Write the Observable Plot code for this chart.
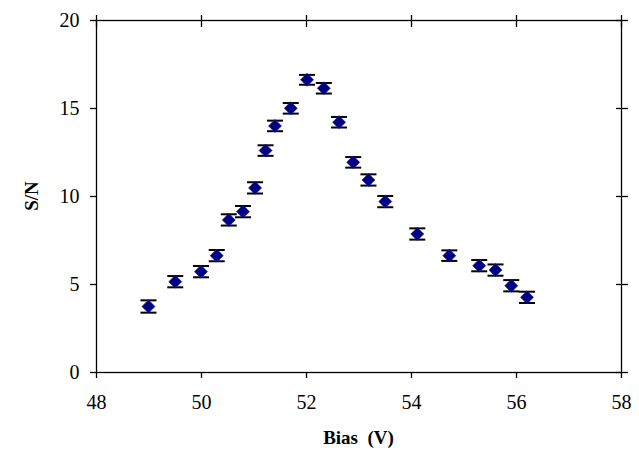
<!DOCTYPE html>
<html>
<head>
<meta charset="utf-8">
<script src="https://cdn.jsdelivr.net/npm/d3@7"></script>
<script src="https://cdn.jsdelivr.net/npm/@observablehq/plot@0.6"></script>
<style>
  html, body { margin: 0; padding: 0; background: #fff; }
  svg { display: block; }
  #chart svg, #chart svg text { font-family: 'Liberation Serif', 'Times New Roman', serif !important; }
</style>
</head>
<body>
<div id="chart"></div>
<script>
const bias = [48.99, 49.50, 49.99, 50.29, 50.52, 50.79, 51.02, 51.22, 51.40, 51.70, 52.01, 52.33, 52.62, 52.89, 53.18, 53.50, 54.11, 54.72, 55.29, 55.60, 55.90, 56.20];
const sn   = [3.75, 5.16, 5.73, 6.64, 8.67, 9.14, 10.49, 12.61, 14.01, 15.01, 16.63, 16.15, 14.22, 11.94, 10.94, 9.71, 7.87, 6.64, 6.07, 5.82, 4.93, 4.27];
const err  = [0.35, 0.32, 0.32, 0.32, 0.32, 0.32, 0.32, 0.3, 0.3, 0.3, 0.28, 0.3, 0.3, 0.3, 0.32, 0.32, 0.32, 0.3, 0.32, 0.32, 0.32, 0.32];
const xTicks = [48, 50, 52, 54, 56, 58];
const yTicks = [0, 5, 10, 15, 20];

const data = bias.map((b, i) => ({x: b, y: sn[i], e: err[i]}));

const capBar = {
  draw(context, size) {
    context.moveTo(-8, 0);
    context.lineTo(8, 0);
  }
};

const font = "Liberation Serif";

const chart = Plot.plot({
  width: 639,
  height: 451,
  marginLeft: 96,
  marginRight: 18,
  marginTop: 20,
  marginBottom: 79,
  style: {fontFamily: font, fontSize: "20px", color: "#000", background: "#fff"},
  x: {domain: [48, 58]},
  y: {domain: [0, 20]},
  marks: [
    Plot.frame({stroke: "#000", strokeWidth: 1.3}),
    Plot.axisX(xTicks, {anchor: "bottom", tickSize: 6, tickPadding: 16, tickFormat: d => String(d), label: null, fontSize: 20, fontFamily: font, strokeWidth: 1.3}),
    Plot.axisX(xTicks, {anchor: "top", tickSize: 6, tickFormat: null, label: null, text: null, strokeWidth: 1.3}),
    Plot.axisX(xTicks, {anchor: "top", tickSize: -6, tickFormat: null, label: null, text: null, strokeWidth: 1.3}),
    Plot.axisY(yTicks, {anchor: "left", tickSize: 6, tickPadding: 11, tickFormat: d => String(d), label: null, fontSize: 20, fontFamily: font, strokeWidth: 1.3}),
    Plot.axisY(yTicks, {anchor: "right", tickSize: 6, tickFormat: null, label: null, text: null, strokeWidth: 1.3}),
    Plot.axisY(yTicks, {anchor: "right", tickSize: -6, tickFormat: null, label: null, text: null, strokeWidth: 1.3}),
    Plot.ruleX(data, {x: "x", y1: d => d.y - d.e, y2: d => d.y + d.e, stroke: "#000", strokeWidth: 1.5}),
    Plot.dot(data, {x: "x", y: d => d.y + d.e, symbol: capBar, stroke: "#000", strokeWidth: 2, fill: "none"}),
    Plot.dot(data, {x: "x", y: d => d.y - d.e, symbol: capBar, stroke: "#000", strokeWidth: 2, fill: "none"}),
    Plot.dot(data, {x: "x", y: "y", symbol: "square", rotate: 45, r: 5.2, fill: "#000080", stroke: "#1a1aa0", strokeWidth: 0.6})
  ]
});

const svg = d3.select(chart);
svg.append("text")
  .attr("x", (96 + 621) / 2)
  .attr("y", 444)
  .attr("text-anchor", "middle")
  .attr("font-family", font)
  .attr("font-size", 19)
  .attr("font-weight", "bold")
  .attr("fill", "#000")
  .attr("xml:space", "preserve")
  .style("white-space", "pre")
  .text("Bias  (V)");
svg.append("text")
  .attr("transform", "translate(38,196) rotate(-90)")
  .attr("text-anchor", "middle")
  .attr("font-family", font)
  .attr("font-size", 19)
  .attr("font-weight", "bold")
  .attr("fill", "#000")
  .text("S/N");

document.getElementById("chart").appendChild(chart);
</script>
</body>
</html>
